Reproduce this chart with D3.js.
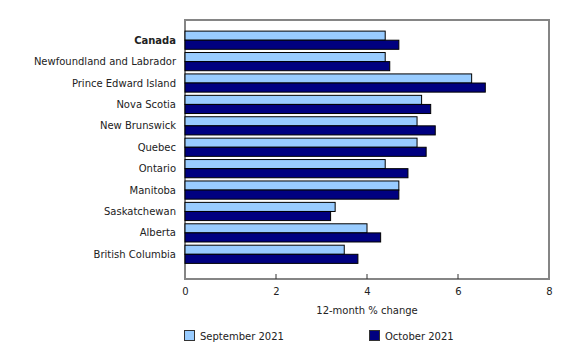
<!DOCTYPE html>
<html>
<head>
<meta charset="utf-8">
<script src="https://cdn.jsdelivr.net/npm/d3@7"></script>
<style>
  html, body { margin: 0; padding: 0; background: #fff; }
  svg { display: block; font-family: "DejaVu Sans", Verdana, sans-serif; }
</style>
</head>
<body>
<svg id="chart" width="580" height="345"></svg>
<script>
const categories = ["Canada", "Newfoundland and Labrador", "Prince Edward Island", "Nova Scotia",
  "New Brunswick", "Quebec", "Ontario", "Manitoba", "Saskatchewan", "Alberta", "British Columbia"];
const september2021 = [4.4, 4.4, 6.3, 5.2, 5.1, 5.1, 4.4, 4.7, 3.3, 4.0, 3.5];
const october2021 = [4.7, 4.5, 6.6, 5.4, 5.5, 5.3, 4.9, 4.7, 3.2, 4.3, 3.8];
const seriesNames = ["September 2021", "October 2021"];
const seriesColors = ["#99ccff", "#000080"];
const xTicks = [0, 2, 4, 6, 8];
const xTitle = "12-month % change";

const svg = d3.select("#chart");
const plot = { left: 185, right: 549, top: 20, bottom: 279 };

const x = d3.scaleLinear().domain([0, 8]).range([plot.left, plot.right]);
const y = d3.scaleBand().domain(categories).range([29.5, 265]).paddingInner(0.15).paddingOuter(0.075);
const sub = d3.scaleBand().domain([0, 1]).range([0, y.bandwidth()]);

// frame
svg.append("rect")
  .attr("x", plot.left).attr("y", plot.top)
  .attr("width", plot.right - plot.left).attr("height", plot.bottom - plot.top)
  .attr("fill", "none").attr("stroke", "#858585").attr("stroke-width", 2);

// bars
const rows = categories.map((c, i) => ({ c, v: [september2021[i], october2021[i]] }));
const g = svg.append("g");
rows.forEach(r => {
  r.v.forEach((v, k) => {
    g.append("rect")
      .attr("x", x(0))
      .attr("y", y(r.c) + sub(k))
      .attr("width", x(v) - x(0))
      .attr("height", sub.bandwidth())
      .attr("fill", seriesColors[k])
      .attr("stroke", "#000")
      .attr("stroke-width", 1);
  });
});

// x axis ticks (inward)
const xAxis = d3.axisBottom(x).tickValues(xTicks).tickSize(0).tickPadding(9).tickFormat(d3.format("d"));
const ax = svg.append("g").attr("transform", `translate(0,${plot.bottom})`).call(xAxis);
ax.select(".domain").remove();
ax.selectAll("text").attr("font-size", 10).attr("fill", "#222").attr("font-family", "DejaVu Sans, Verdana, sans-serif");
svg.append("g").selectAll("line").data(xTicks.slice(1, -1)).join("line")
  .attr("x1", d => x(d)).attr("x2", d => x(d))
  .attr("y1", plot.bottom - 5).attr("y2", plot.bottom)
  .attr("stroke", "#333").attr("stroke-width", 1);

// y labels
svg.append("g").selectAll("text").data(categories).join("text")
  .attr("x", 176)
  .attr("y", d => y(d) + y.bandwidth() / 2)
  .attr("dy", "0.35em")
  .attr("text-anchor", "end")
  .attr("font-size", 10)
  .attr("font-weight", d => d === "Canada" ? "bold" : "normal")
  .attr("fill", "#222")
  .text(d => d);

// axis title
svg.append("text")
  .attr("x", x(4)).attr("y", 314)
  .attr("text-anchor", "middle")
  .attr("font-size", 10).attr("fill", "#222")
  .text(xTitle);

// legend
const legX = [184, 369];
seriesNames.forEach((n, k) => {
  svg.append("rect").attr("x", legX[k] + 0.5).attr("y", 330.5).attr("width", 10).attr("height", 10)
    .attr("fill", seriesColors[k]).attr("stroke", "#333").attr("stroke-width", 1);
  svg.append("text").attr("x", legX[k] + 16).attr("y", 339.5)
    .attr("font-size", 10).attr("fill", "#222").text(n);
});
</script>
</body>
</html>
